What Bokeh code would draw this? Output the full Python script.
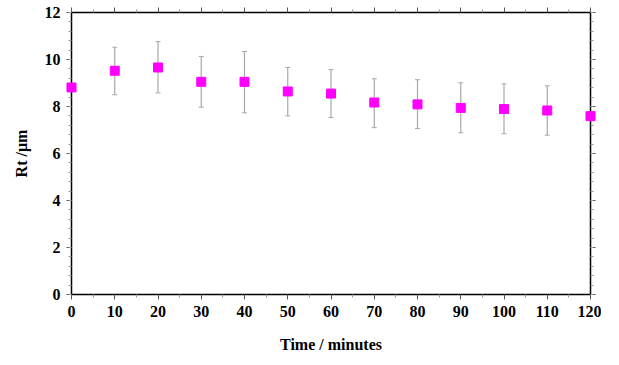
from bokeh.plotting import figure
from bokeh.models import ColumnDataSource, Whisker, LinearAxis, FixedTicker, Range1d
from bokeh.embed import file_html
from bokeh.resources import INLINE

time_min = [0, 10, 20, 30, 40, 50, 60, 70, 80, 90, 100, 110, 120]
rt_mean = [8.81, 9.52, 9.66, 9.05, 9.05, 8.64, 8.55, 8.17, 8.09, 7.94, 7.89, 7.83, 7.59]
rt_upper = [8.81, 10.52, 10.76, 10.13, 10.34, 9.66, 9.57, 9.18, 9.14, 9.01, 8.96, 8.88, 7.59]
rt_lower = [8.81, 8.50, 8.58, 7.97, 7.73, 7.60, 7.53, 7.10, 7.06, 6.88, 6.84, 6.78, 7.59]

x_major = [0, 10, 20, 30, 40, 50, 60, 70, 80, 90, 100, 110, 120]
x_minor = [5, 15, 25, 35, 45, 55, 65, 75, 85, 95, 105, 115]
y_major = [0, 2, 4, 6, 8, 10, 12]
y_minor = [round(i * 0.4, 2) for i in range(31)]

FONT = "Liberation Serif"

p = figure(width=601, height=357, output_backend="svg", toolbar_location=None,
           x_range=Range1d(0, 120), y_range=Range1d(0, 12),
           min_border_left=71, min_border_right=11, min_border_top=12, min_border_bottom=63)
p.grid.visible = False
p.outline_line_color = None
p.background_fill_color = "white"
p.border_fill_color = "white"

src = ColumnDataSource(dict(x=time_min, y=rt_mean, up=rt_upper, lo=rt_lower))

w = Whisker(source=src, base="x", upper="up", lower="lo", line_color="#a8a8a8", line_width=1.2)
w.upper_head.size = 5
w.lower_head.size = 5
w.upper_head.line_color = "#a8a8a8"
w.lower_head.line_color = "#a8a8a8"
p.add_layout(w)

p.scatter("x", "y", source=src, marker="square", size=9, fill_color="#ff00ff",
          line_color="#ff00ff", level="overlay")

def style(ax, ticks, minor, labels=True):
    ax.ticker = FixedTicker(ticks=ticks, minor_ticks=minor)
    ax.axis_line_color = "black"
    ax.axis_line_width = 1.5
    ax.major_tick_in = 0
    ax.major_tick_out = 5
    ax.minor_tick_in = 0
    ax.minor_tick_out = 3
    ax.major_tick_line_color = "#555555"
    ax.minor_tick_line_color = "#999999"
    ax.major_label_text_font = FONT
    ax.major_label_text_font_style = "bold"
    ax.major_label_text_font_size = "16px"
    ax.major_label_text_color = "black"
    if not labels:
        ax.major_label_overrides = {t: "" for t in ticks}
        ax.major_label_standoff = 0
    ax.axis_label_text_font = FONT
    ax.axis_label_text_font_style = "bold"
    ax.axis_label_text_font_size = "16px"
    ax.axis_label_text_color = "black"

style(p.xaxis[0], x_major, x_minor)
style(p.yaxis[0], y_major, y_minor)
p.xaxis[0].axis_label = "Time / minutes"
p.yaxis[0].axis_label = "Rt /\u03bcm"
p.xaxis[0].major_label_standoff = 6
p.yaxis[0].major_label_standoff = 6
p.xaxis[0].axis_label_standoff = 16
p.yaxis[0].axis_label_standoff = 12

top = LinearAxis()
style(top, x_major, x_minor, labels=False)
p.add_layout(top, "above")
right = LinearAxis()
style(right, y_major, y_minor, labels=False)
p.add_layout(right, "right")

open("out.html", "w").write(file_html(p, INLINE))
